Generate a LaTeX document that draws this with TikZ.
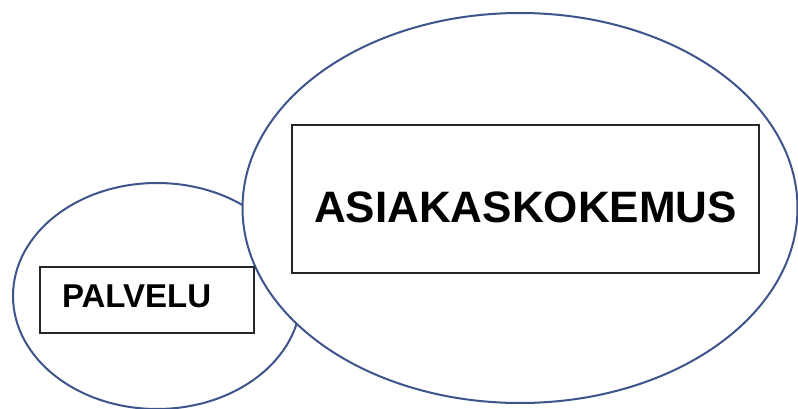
\documentclass[tikz,border=0pt]{standalone}
\usepackage{fontspec}
\setmainfont{Liberation Sans}
\usepackage{xcolor}
\usepackage{tikz}
\usetikzlibrary{positioning,shapes}
\definecolor{ringblue}{RGB}{62,84,138}
\tikzset{
    ring/.style={ellipse, draw=ringblue, fill=white, line width=2pt, inner sep=0pt},
    label box/.style={rectangle, draw=black!85, line width=1.2pt, inner xsep=0pt, inner ysep=0pt, font=\bfseries}
}

\begin{document}
\begin{tikzpicture}[x=1pt, y=-1pt]
    \useasboundingbox (0,0) rectangle (798,409);

    \node[ring, minimum width=288pt, minimum height=226pt] (small) at (157,296) {};
    \node[ring, minimum width=555pt, minimum height=390pt] (big) at (520,208) {};

    \node[label box, minimum width=467pt, text width=467pt, align=center,
          text height=97pt, text depth=51pt, font=\bfseries\fontsize{44}{44}\selectfont]
          (asiakas) at (525.5,199) {ASIAKASKOKEMUS};
    \node[label box, minimum width=214pt, text width=170pt, inner xsep=22pt, align=left,
          text height=40pt, text depth=26pt, font=\bfseries\fontsize{33}{33}\selectfont]
          (palvelu) at (147,300) {PALVELU};

\end{tikzpicture}
\end{document}
